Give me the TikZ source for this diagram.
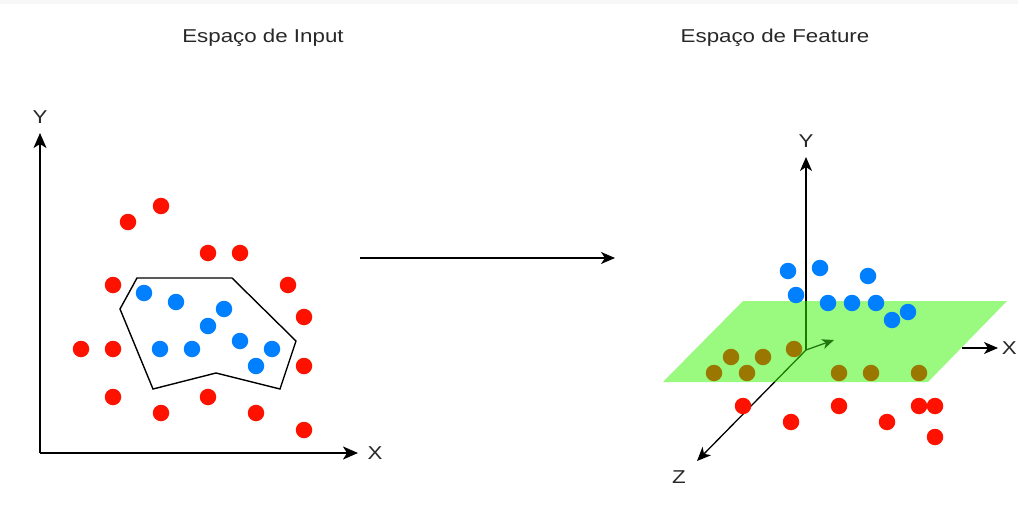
\documentclass[tikz,border=0pt]{standalone}
\usepackage{fontspec}
\setmainfont{Liberation Sans}
\usetikzlibrary{arrows.meta}
\definecolor{dotred}{RGB}{255,17,0}
\definecolor{dotblue}{RGB}{0,127,255}
\definecolor{dotbrown}{RGB}{153,119,0}
\definecolor{planegreen}{RGB}{55,245,0}
\definecolor{arrowgreen}{RGB}{34,119,17}
\definecolor{txtgray}{RGB}{40,40,40}
\begin{document}
\begin{tikzpicture}[x=1pt,y=-1pt,
  dot/.style={circle,inner sep=0pt,minimum size=16.5pt},
  rdot/.style={dot,fill=dotred},
  bdot/.style={dot,fill=dotblue},
  odot/.style={dot,fill=dotbrown},
  lbl/.style={font=\fontsize{18.6}{20}\selectfont,text=txtgray,inner sep=0pt},
  axis/.style={-{Stealth[length=15pt,width=13pt,inset=4pt]},line width=1.7pt},
  thinaxis/.style={-{Stealth[length=14pt,width=12pt,inset=4pt]},line width=1.3pt}
]
\useasboundingbox (0,0) rectangle (1018,516);
\clip (0,0) rectangle (1018,516);
\fill[white] (0,0) rectangle (1018,516);
\fill[black!3] (0,0) rectangle (1018,4);

% titles
\node[lbl] (t1) at (263,38) {\scalebox{1.2}[1]{Espaço de Input}};
\node[lbl] (t2) at (775,38) {\scalebox{1.2}[1]{Espaço de Feature}};

% ---------------- left panel
\coordinate (O1) at (40,453);
\coordinate (Y1) at (40,133);
\coordinate (X1) at (358,453);
\draw[axis] (O1) -- (Y1);
\draw[axis] (O1) -- (X1);
\node[lbl] (ly1) at (40,117) {\scalebox{1.2}[1]{Y}};
\node[lbl] (lx1) at (375,453) {\scalebox{1.2}[1]{X}};

\draw[line width=1.4pt,line join=miter] (137,278) -- (232,278) -- (296,341) -- (280,389)
  -- (216,373) -- (153,389) -- (120,309) -- cycle;

\foreach \p [count=\i] in {(128,222),(161,206),(208,253),(240,253),(113,285),(288,285),
  (304,317),(81,349),(113,349),(304,366),(113,397),(208,397),(161,413),(256,413),(304,430)}
  \node[rdot] (lr\i) at \p {};
\foreach \p [count=\i] in {(144,293),(176,302),(224,309),(208,326),(160,349),(192,349),
  (240,341),(272,349),(256,366)}
  \node[bdot] (lb\i) at \p {};

% ---------------- middle arrow
\coordinate (ma) at (360,258);
\coordinate (mb) at (615,258);
\draw[thinaxis,line width=1.4pt] (ma) -- (mb);

% ---------------- right panel
\coordinate (O2) at (806,350);
\coordinate (Y2) at (806,157);
\coordinate (Z2) at (697,461);
\coordinate (G2) at (834,340);
\coordinate (XA) at (962,348);
\coordinate (XB) at (998,348);
\draw[thinaxis] (O2) -- (Y2);
\draw[thinaxis] (O2) -- (Z2);
\fill[planegreen,fill opacity=0.5] (743,301) -- (1007,301) -- (928,382) -- (663,382) -- cycle;
\draw[arrowgreen,line width=1.3pt,-{Stealth[length=12pt,width=10pt,inset=3.5pt]}] (O2) -- (G2);
\draw[thinaxis] (XA) -- (XB);
\node[lbl] (ly2) at (806,141) {\scalebox{1.2}[1]{Y}};
\node[lbl] (lz2) at (679,477) {\scalebox{1.2}[1]{Z}};
\node[lbl,anchor=east] (lx2) at (1017,348) {\scalebox{1.2}[1]{X}};

\foreach \p [count=\i] in {(731,357),(763,357),(794,349),(714,373),(747,373),
  (839,373),(871,373),(919,373)}
  \node[odot] (ro\i) at \p {};
\foreach \p [count=\i] in {(788,271),(820,268),(868,276),(796,295),(828,303),(852,303),
  (876,303),(908,312),(892,320)}
  \node[bdot] (rb\i) at \p {};
\foreach \p [count=\i] in {(743,406),(839,406),(919,406),(935,406),(791,422),(887,422),(935,437)}
  \node[rdot] (rr\i) at \p {};
\end{tikzpicture}
\end{document}
